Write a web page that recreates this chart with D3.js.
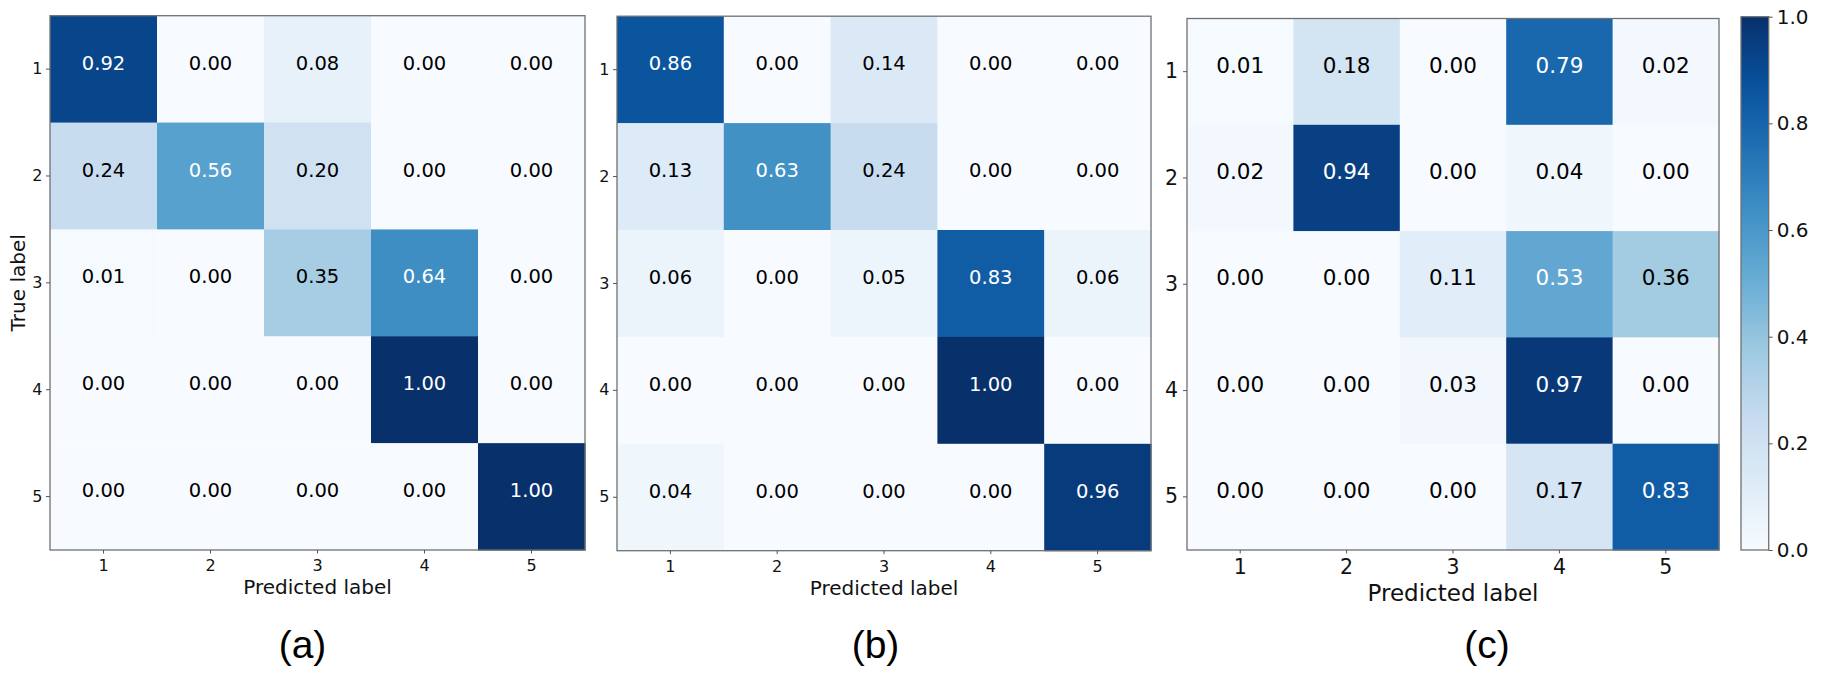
<!DOCTYPE html>
<html>
<head>
<meta charset="utf-8">
<script src="https://cdn.jsdelivr.net/npm/d3@7"></script>
<style>
  html, body { margin: 0; padding: 0; background: #fff; }
  svg { display: block; }
</style>
</head>
<body>
<div id="chart"></div>
<script>
// CLASS LABELS + NORMALISED CONFUSION MATRICES (rows = true, cols = predicted)
const classLabels = ["1", "2", "3", "4", "5"];

const matrixA = [
  [0.92, 0.00, 0.08, 0.00, 0.00],
  [0.24, 0.56, 0.20, 0.00, 0.00],
  [0.01, 0.00, 0.35, 0.64, 0.00],
  [0.00, 0.00, 0.00, 1.00, 0.00],
  [0.00, 0.00, 0.00, 0.00, 1.00]
];

const matrixB = [
  [0.86, 0.00, 0.14, 0.00, 0.00],
  [0.13, 0.63, 0.24, 0.00, 0.00],
  [0.06, 0.00, 0.05, 0.83, 0.06],
  [0.00, 0.00, 0.00, 1.00, 0.00],
  [0.04, 0.00, 0.00, 0.00, 0.96]
];

const matrixC = [
  [0.01, 0.18, 0.00, 0.79, 0.02],
  [0.02, 0.94, 0.00, 0.04, 0.00],
  [0.00, 0.00, 0.11, 0.53, 0.36],
  [0.00, 0.00, 0.03, 0.97, 0.00],
  [0.00, 0.00, 0.00, 0.17, 0.83]
];

const colorbarTicks = [0.0, 0.2, 0.4, 0.6, 0.8, 1.0];
const panelTags = ["(a)", "(b)", "(c)"];

// FIGURE SIZE
const width = 1822;
const height = 684;

// MATPLOTLIB STYLE "Blues" : LINEAR BETWEEN THE 9 BREWER STOPS
const color = d3.scaleLinear()
    .domain(d3.range(9).map(i => i / 8))
    .range(d3.schemeBlues[9])
    .clamp(true);

// PANEL LAYOUT (pixels)
const panels = [
  { data: matrixA, tag: panelTags[0], x0: 50, x1: 585, y0: 15.7, y1: 550,
    cellFont: 19.5, tickFont: 16, labelFont: 20, labelY: 594, tagX: 302.5,
    yPad: 3.5, xPad: 6, trueLabel: true },
  { data: matrixB, tag: panelTags[1], x0: 617, x1: 1151, y0: 16.2, y1: 550.7,
    cellFont: 19.5, tickFont: 16, labelFont: 20, labelY: 595.3, tagX: 875.5,
    yPad: 3.5, xPad: 6, trueLabel: false },
  { data: matrixC, tag: panelTags[2], x0: 1187, x1: 1719, y0: 18.5, y1: 550,
    cellFont: 21.5, tickFont: 20.5, labelFont: 23, labelY: 601, tagX: 1487,
    yPad: 5, xPad: 6, trueLabel: false }
];

const svg = d3.select("#chart")
    .append("svg")
    .attr("width", width)
    .attr("height", height)
    .attr("viewBox", `0 0 ${width} ${height}`)
    .style("font-family", "'DejaVu Sans', sans-serif");

// DRAW ONE CONFUSION MATRIX
function drawPanel(p) {
  const g = svg.append("g");

  const x = d3.scaleBand().domain(classLabels).range([p.x0, p.x1]);
  const y = d3.scaleBand().domain(classLabels).range([p.y0, p.y1]);

  const cells = p.data.flatMap((row, r) =>
      row.map((v, c) => ({ row: classLabels[r], col: classLabels[c], v })));

  g.selectAll("rect.cell")
      .data(cells)
      .join("rect")
      .attr("class", "cell")
      .attr("x", d => x(d.col))
      .attr("y", d => y(d.row))
      .attr("width", x.bandwidth() + 0.5)
      .attr("height", y.bandwidth() + 0.5)
      .attr("fill", d => color(d.v));

  g.selectAll("text.val")
      .data(cells)
      .join("text")
      .attr("class", "val")
      .attr("x", d => x(d.col) + x.bandwidth() / 2)
      .attr("y", d => y(d.row) + y.bandwidth() / 2 - 6.5)
      .attr("dy", "0.36em")
      .attr("text-anchor", "middle")
      .attr("font-size", p.cellFont)
      .attr("fill", d => d.v > 0.5 ? "#ffffff" : "#000000")
      .text(d => d.v.toFixed(2));

  // frame
  g.append("rect")
      .attr("x", p.x0)
      .attr("y", p.y0)
      .attr("width", p.x1 - p.x0)
      .attr("height", p.y1 - p.y0)
      .attr("fill", "none")
      .attr("stroke", "#707070")
      .attr("stroke-width", 1.3);

  // axes
  const xAxis = g.append("g")
      .attr("transform", `translate(0,${p.y1})`)
      .call(d3.axisBottom(x).tickSize(3.5).tickPadding(p.xPad));
  const yAxis = g.append("g")
      .attr("transform", `translate(${p.x0},0)`)
      .call(d3.axisLeft(y).tickSize(4).tickPadding(p.yPad));

  [xAxis, yAxis].forEach(a => {
    a.select(".domain").remove();
    a.selectAll("line").attr("stroke", "#555");
    a.selectAll("text")
        .attr("font-size", p.tickFont)
        .attr("font-family", "'DejaVu Sans', sans-serif")
        .attr("fill", "#111");
  });

  g.append("text")
      .attr("x", (p.x0 + p.x1) / 2)
      .attr("y", p.labelY)
      .attr("text-anchor", "middle")
      .attr("font-size", p.labelFont)
      .attr("fill", "#111")
      .text("Predicted label");

  if (p.trueLabel) {
    g.append("text")
        .attr("transform", `translate(25,${(p.y0 + p.y1) / 2}) rotate(-90)`)
        .attr("text-anchor", "middle")
        .attr("font-size", 20)
        .attr("fill", "#111")
        .text("True label");
  }

  // panel tag under the plot
  svg.append("text")
      .attr("x", p.tagX)
      .attr("y", 658)
      .attr("text-anchor", "middle")
      .attr("font-family", "'Liberation Sans', Arial, sans-serif")
      .attr("font-size", 39)
      .attr("fill", "#000")
      .text(p.tag);
}

panels.forEach(drawPanel);

// COLORBAR
const cb = { x0: 1741, x1: 1768.7, y0: 16.7, y1: 550 };
const cbScale = d3.scaleLinear().domain([0, 1]).range([cb.y1, cb.y0]);

const grad = svg.append("defs")
    .append("linearGradient")
    .attr("id", "blues-grad")
    .attr("x1", "0").attr("y1", "1")
    .attr("x2", "0").attr("y2", "0");

grad.selectAll("stop")
    .data(d3.range(0, 1.0001, 0.02))
    .join("stop")
    .attr("offset", d => d)
    .attr("stop-color", d => color(d));

svg.append("rect")
    .attr("x", cb.x0)
    .attr("y", cb.y0)
    .attr("width", cb.x1 - cb.x0)
    .attr("height", cb.y1 - cb.y0)
    .attr("fill", "url(#blues-grad)")
    .attr("stroke", "#707070")
    .attr("stroke-width", 1.3);

const cbAxis = svg.append("g")
    .attr("transform", `translate(${cb.x1},0)`)
    .call(d3.axisRight(cbScale)
        .tickValues(colorbarTicks)
        .tickFormat(d3.format(".1f"))
        .tickSize(4)
        .tickPadding(4));

cbAxis.select(".domain").remove();
cbAxis.selectAll("line").attr("stroke", "#555");
cbAxis.selectAll("text")
    .attr("font-size", 20)
    .attr("font-family", "'DejaVu Sans', sans-serif")
    .attr("fill", "#111");
</script>
</body>
</html>
